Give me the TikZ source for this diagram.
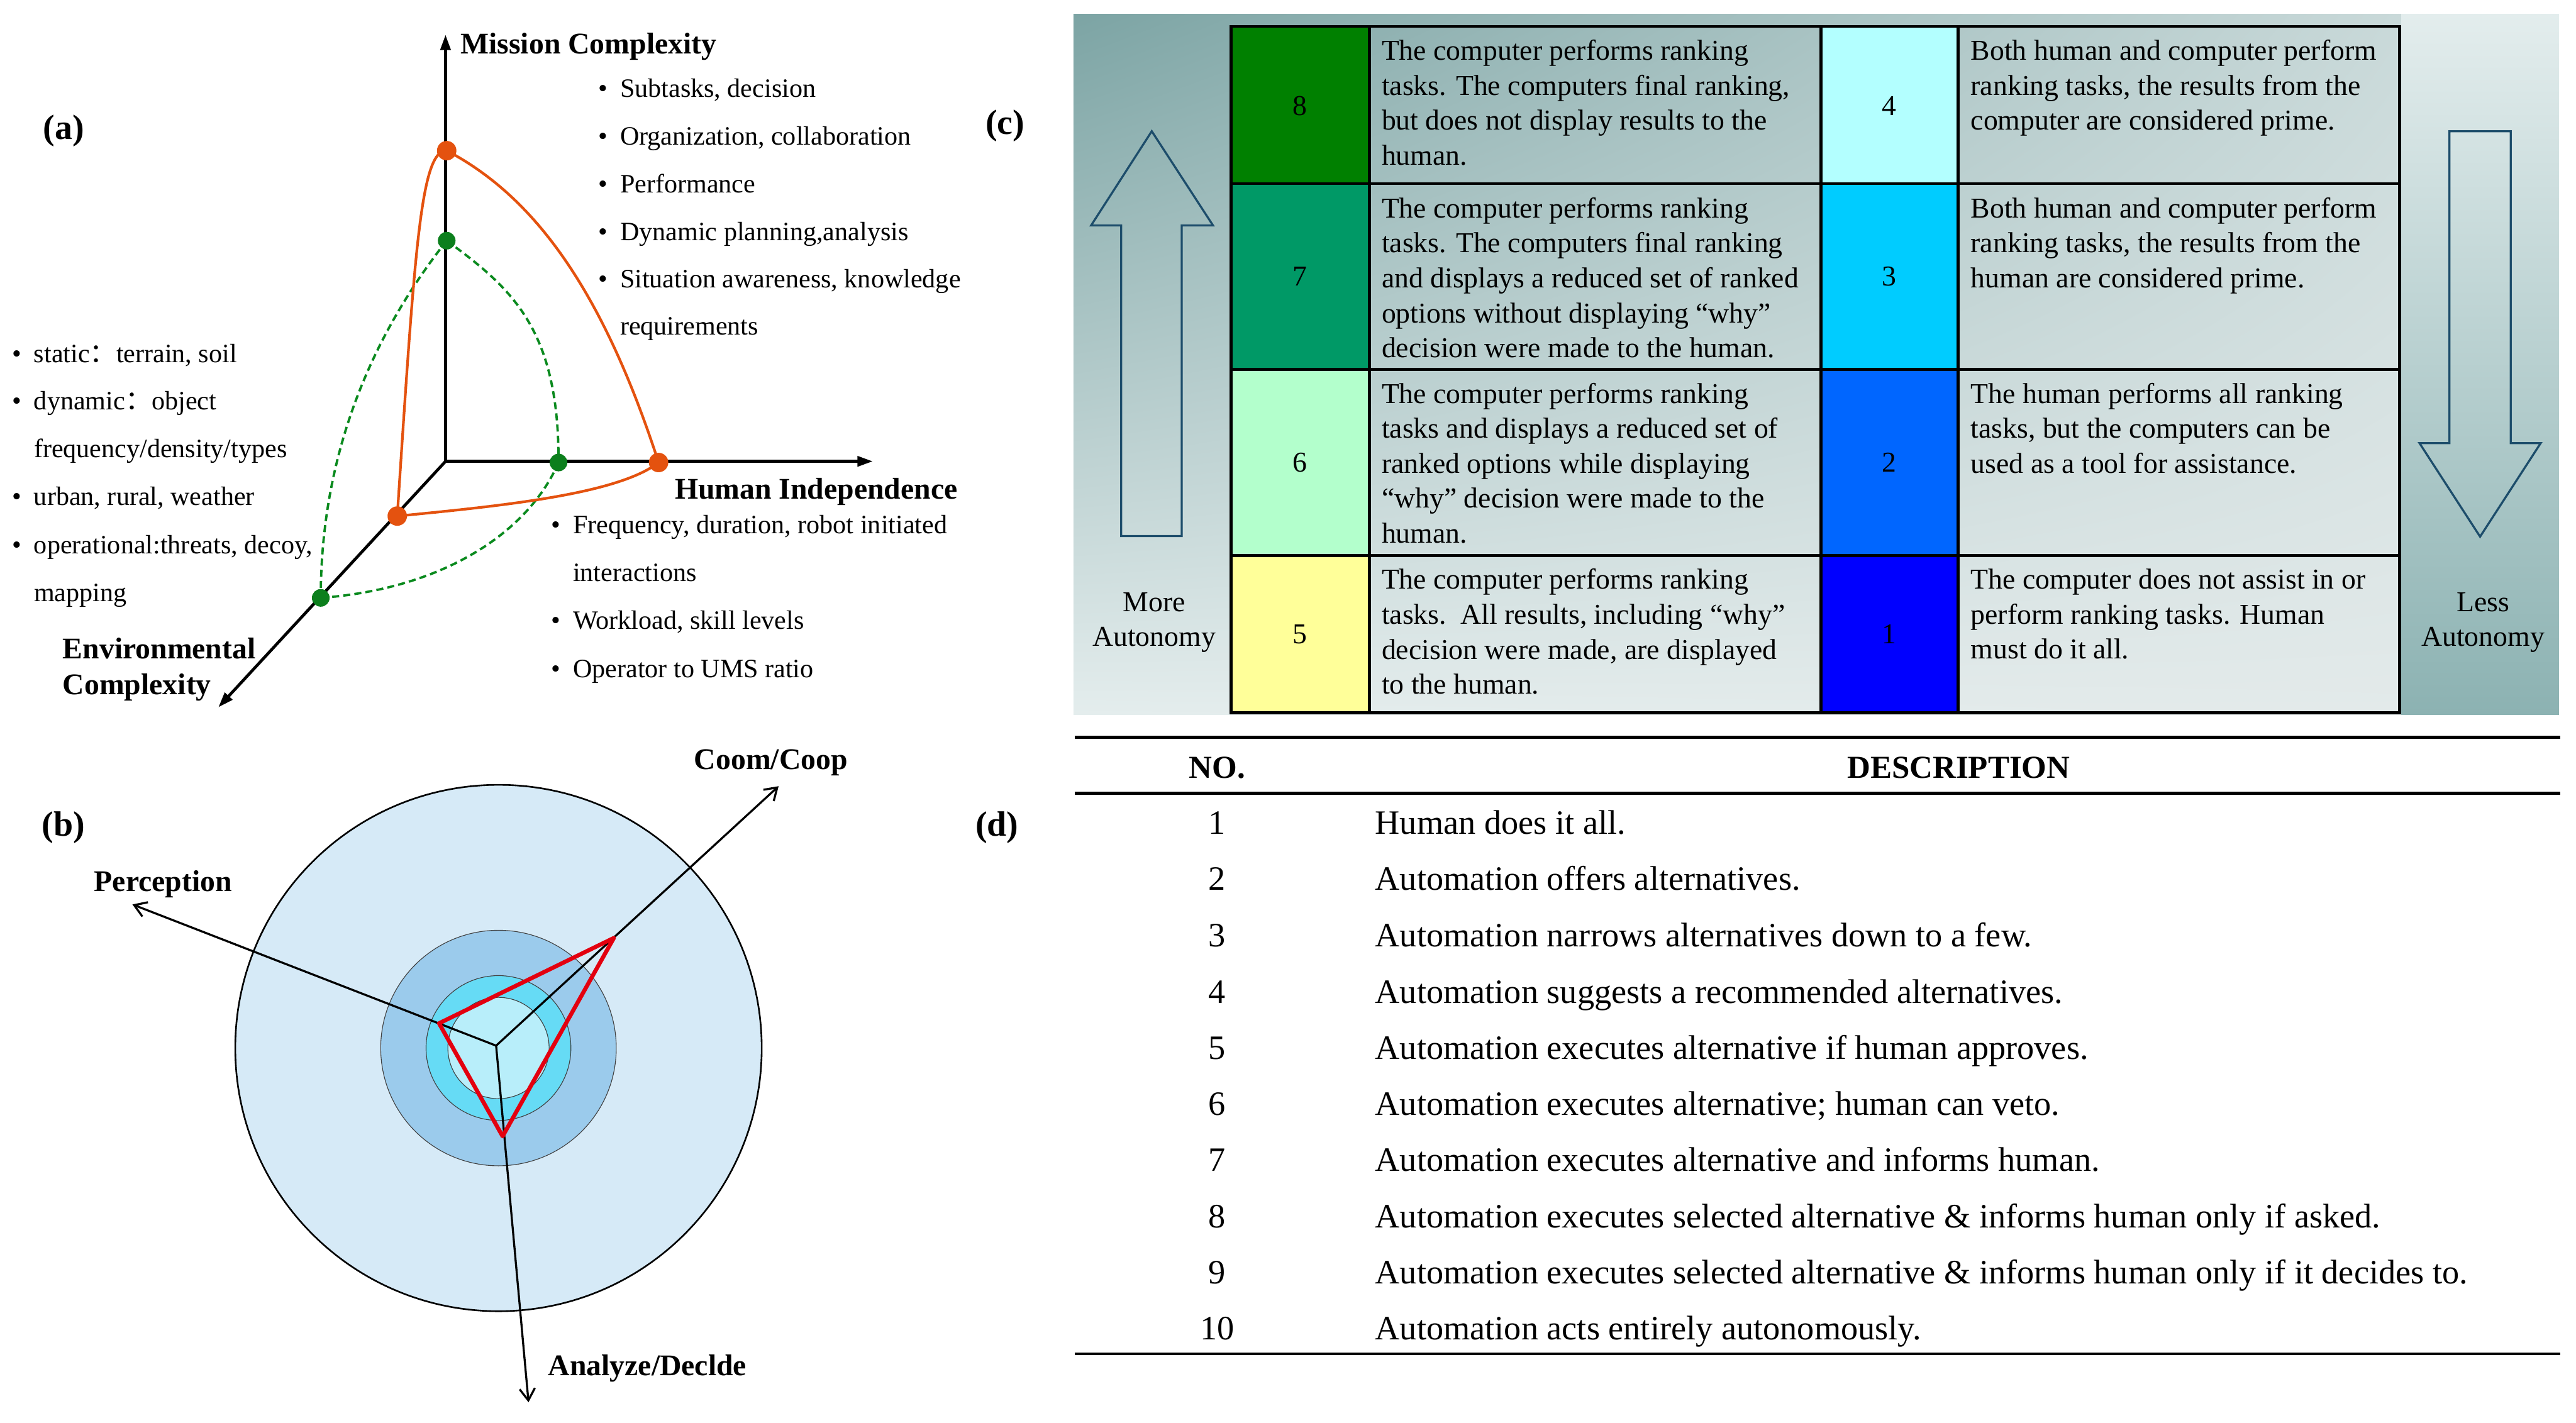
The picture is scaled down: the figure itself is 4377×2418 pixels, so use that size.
\documentclass[tikz,border=0pt]{standalone}
\usepackage{fontspec}
\setmainfont{Liberation Serif}
\newfontfamily\cjkfont{Noto Sans CJK SC}
\usetikzlibrary{arrows.meta,shadings}
\definecolor{orangeC}{HTML}{E4520F}
\definecolor{greenL}{HTML}{0A8A1E}
\definecolor{greenD}{HTML}{0C7F1D}
\definecolor{bigC}{HTML}{D6EAF7}
\definecolor{midC}{HTML}{9BCBEC}
\definecolor{innC}{HTML}{66DBF5}
\definecolor{coreC}{HTML}{B8EEFA}
\definecolor{redC}{HTML}{E3000F}
\definecolor{arrowC}{HTML}{1D4D6B}
\definecolor{bgTL}{HTML}{7CA4A4}
\definecolor{bgTR}{HTML}{C9D9D9}
\definecolor{bgBL}{HTML}{E4EDED}
\definecolor{bgBR}{HTML}{E3EAEA}
\definecolor{rsTop}{HTML}{E3EDED}
\definecolor{rsBot}{HTML}{8CB2B2}
\definecolor{cEight}{HTML}{008000}
\definecolor{cSeven}{HTML}{009966}
\definecolor{cSix}{HTML}{B3FFCC}
\definecolor{cFive}{HTML}{FFFF99}
\definecolor{cFour}{HTML}{B3FFFF}
\definecolor{cThree}{HTML}{00CCFF}
\definecolor{cTwo}{HTML}{0066FF}
\definecolor{cOne}{HTML}{0000FF}
\newcommand\bul{\makebox[0.37cm][l]{\textbullet}}
\newcommand\fcolon{{\cjkfont ：}}
\begin{document}
\begin{tikzpicture}[x=0.01cm,y=-0.01cm,
  panel/.style={font=\fontsize{17}{20}\selectfont\bfseries, inner sep=0},
  axlbl/.style={font=\fontsize{14.5}{17}\selectfont\bfseries, inner sep=0, anchor=base west},
  blt/.style={font=\fontsize{12.8}{15}\selectfont, inner sep=0, anchor=base west},
  axisA/.style={line width=0.05cm, -{Triangle[length=0.26cm,width=0.17cm]}},
  ocurve/.style={orangeC, line width=0.045cm},
  gcurve/.style={greenL, line width=0.04cm, dash pattern=on 0.12cm off 0.07cm},
  odot/.style={circle, fill=orangeC, minimum size=0.33cm, inner sep=0},
  gdot/.style={circle, fill=greenD, minimum size=0.30cm, inner sep=0},
  axisB/.style={line width=0.035cm, -{Straight Barb[length=0.2cm,width=0.26cm]}},
  ring/.style={draw=black!75, line width=0.012cm},
  redtri/.style={redC, line width=0.07cm, line join=round},
  bglbl/.style={font=\fontsize{14.5}{17}\selectfont\bfseries, inner sep=0},
  celltxt/.style={font=\fontsize{13.9}{16.9}\selectfont, inner sep=0, anchor=north west, align=left},
  numtxt/.style={font=\fontsize{13.9}{16.9}\selectfont, inner sep=0},
  sidetxt/.style={font=\fontsize{13.9}{16.9}\selectfont, inner sep=0, align=center},
  gridline/.style={line width=0.05cm},
  hollow/.style={draw=arrowC, line width=0.035cm, line join=miter},
  rule/.style={line width=0.045cm},
  dhead/.style={font=\fontsize{15.5}{18}\selectfont\bfseries, inner sep=0, anchor=base},
  dnum/.style={font=\fontsize{16.5}{19}\selectfont, inner sep=0, anchor=base},
  dtxt/.style={font=\fontsize{16.5}{19}\selectfont, inner sep=0, anchor=base west}
]
\useasboundingbox (0,0) rectangle (4377,2418);

% ================= (a) =================
\node[panel] (la) at (108,222) {(a)};
\coordinate (O) at (757,784);
\coordinate (Mz) at (757,59);
\coordinate (Hz) at (1483,784);
\coordinate (Ez) at (371,1202);
\draw[axisA] (O) -- (Mz);
\draw[axisA] (O) -- (Hz);
\draw[axisA] (O) -- (Ez);

\coordinate (oTp) at (759,256);
\coordinate (oRp) at (1119,786);
\coordinate (oLp) at (675,877);
\coordinate (gTp) at (759,409);
\coordinate (gRp) at (949,786);
\coordinate (gLp) at (545,1016);

\draw[gcurve] (gTp) .. controls (870,490) and (950,560) .. (gRp);
\draw[gcurve] (gTp) .. controls (640,560) and (545,760) .. (gLp);
\draw[gcurve] (gRp) .. controls (900,900) and (760,1000) .. (gLp);
\draw[ocurve] (oTp) .. controls (900,330) and (1020,480) .. (oRp);
\draw[ocurve] (oTp) .. controls (715,255) and (705,420) .. (oLp);
\draw[ocurve] (oLp) .. controls (850,860) and (1050,840) .. (oRp);

\node[odot] (oT) at (oTp) {};
\node[odot] (oR) at (oRp) {};
\node[odot] (oL) at (oLp) {};
\node[gdot] (gT) at (gTp) {};
\node[gdot] (gR) at (gRp) {};
\node[gdot] (gL) at (gLp) {};

\node[axlbl] (tMission) at (782,91) {Mission Complexity};
\node[axlbl] (tHuman) at (1146,848) {Human Independence};
\node[axlbl] (tEnv1) at (106,1119) {Environmental};
\node[axlbl] (tEnv2) at (106,1180) {Complexity};

\node[blt] (m1) at (1016,165) {\bul Subtasks, decision};
\node[blt] (m2) at (1016,246) {\bul Organization, collaboration};
\node[blt] (m3) at (1016,328) {\bul Performance};
\node[blt] (m4) at (1016,409) {\bul Dynamic planning,analysis};
\node[blt] (m5) at (1016,489) {\bul Situation awareness, knowledge};
\node[blt] (m6) at (1053,569) {requirements};

\node[blt] (e1) at (20,616) {\bul static\fcolon terrain, soil};
\node[blt] (e2) at (20,696) {\bul dynamic\fcolon object};
\node[blt] (e3) at (57,777) {frequency/density/types};
\node[blt] (e4) at (20,859) {\bul urban, rural, weather};
\node[blt] (e5) at (20,941) {\bul operational:threats, decoy,};
\node[blt] (e6) at (57,1022) {mapping};

\node[blt] (h1) at (936,907) {\bul Frequency, duration, robot initiated};
\node[blt] (h2) at (973,988) {interactions};
\node[blt] (h3) at (936,1069) {\bul Workload, skill levels};
\node[blt] (h4) at (936,1151) {\bul Operator to UMS ratio};

% ================= (b) =================
\node[panel] (lb) at (108,1406) {(b)};
\coordinate (bc) at (847,1781);
\draw[fill=bigC, line width=0.028cm] (bc) circle[radius=4.47cm];
\draw[ring, fill=midC] (bc) circle[radius=2.0cm];
\draw[ring, fill=innC] (bc) circle[radius=1.23cm];
\draw[ring, fill=coreC] (bc) circle[radius=0.86cm];
\coordinate (bo) at (843,1777);
\coordinate (pTip) at (225,1537);
\coordinate (cTip) at (1323,1336);
\coordinate (aTip) at (898,2383);
\draw[axisB] (bo) -- (pTip);
\draw[axisB] (bo) -- (cTip);
\draw[axisB] (bo) -- (aTip);
\coordinate (rP) at (746,1739);
\coordinate (rC) at (1043,1594);
\coordinate (rA) at (854,1931);
\draw[redtri] (rP) -- (rC) -- (rA) -- cycle;
\node[bglbl] (tPer) at (277,1502) {Perception};
\node[bglbl] (tCoom) at (1310,1296) {Coom/Coop};
\node[bglbl] (tAna) at (1100,2325) {Analyze/Declde};

% ================= (c) =================
\node[panel] (lc) at (1708,214) {(c)};
\shade[upper left=bgTL, upper right=bgTR, lower left=bgBL, lower right=bgBR] (1824,24) rectangle (4080,1214);
\shade[top color=rsTop, bottom color=rsBot] (4080,24) rectangle (4348,1214);

\fill[cEight] (2092,45) rectangle (2327,312);
\fill[cSeven] (2092,312) rectangle (2327,628);
\fill[cSix] (2092,628) rectangle (2327,944);
\fill[cFive] (2092,944) rectangle (2327,1211);
\fill[cFour] (3094,45) rectangle (3327,312);
\fill[cThree] (3094,312) rectangle (3327,628);
\fill[cTwo] (3094,628) rectangle (3327,944);
\fill[cOne] (3094,944) rectangle (3327,1211);

\draw[gridline] (2092,45) rectangle (4077,1211);
\draw[gridline] (2092,312) -- (4077,312);
\draw[gridline] (2092,628) -- (4077,628);
\draw[gridline] (2092,944) -- (4077,944);
\draw[gridline] (2327,45) -- (2327,1211);
\draw[gridline] (3094,45) -- (3094,1211);
\draw[gridline] (3327,45) -- (3327,1211);

\node[numtxt] (n8) at (2209,180) {8};
\node[numtxt] (n7) at (2209,470) {7};
\node[numtxt] (n6) at (2209,786) {6};
\node[numtxt] (n5) at (2209,1078) {5};
\node[numtxt] (n4) at (3210,180) {4};
\node[numtxt] (n3) at (3210,470) {3};
\node[numtxt] (n2) at (3210,786) {2};
\node[numtxt] (n1) at (3210,1078) {1};

\node[celltxt] (t8) at (2347,67) {The computer performs ranking\\tasks. The computers final ranking,\\but does not display results to the\\human.};
\node[celltxt] (t7) at (2347,335) {The computer performs ranking\\tasks. The computers final ranking\\and displays a reduced set of ranked\\options without displaying “why”\\decision were made to the human.};
\node[celltxt] (t6) at (2347,650) {The computer performs ranking\\tasks and displays a reduced set of\\ranked options while displaying\\“why” decision were made to the\\human.};
\node[celltxt] (t5) at (2347,966) {The computer performs ranking\\tasks.\ \ All results, including “why”\\decision were made, are displayed\\to the human.};
\node[celltxt] (t4) at (3348,67) {Both human and computer perform\\ranking tasks, the results from the\\computer are considered prime.};
\node[celltxt] (t3) at (3348,335) {Both human and computer perform\\ranking tasks, the results from the\\human are considered prime.};
\node[celltxt] (t2) at (3348,650) {The human performs all ranking\\tasks, but the computers can be\\used as a tool for assistance.};
\node[celltxt] (t1) at (3348,966) {The computer does not assist in or\\perform ranking tasks. Human\\must do it all.};

\draw[hollow] (1957,223) -- (2061,383) -- (2008,383) -- (2008,911) -- (1905,911) -- (1905,383) -- (1854,383) -- cycle;
\draw[hollow] (4162,223) -- (4266,223) -- (4266,753) -- (4317,753) -- (4214,912) -- (4111,753) -- (4162,753) -- cycle;
\node[sidetxt] (more) at (1961,1058) {More\\Autonomy};
\node[sidetxt] (less) at (4219,1058) {Less\\Autonomy};

% ================= (d) =================
\node[panel] (ld) at (1694,1406) {(d)};
\draw[rule] (1826,1253) -- (4350,1253);
\draw[rule] (1826,1348) -- (4350,1348);
\draw[rule] (1826,2301) -- (4350,2301);
\node[dhead] (hNo) at (2068,1322) {NO.};
\node[dhead] (hDesc) at (3328,1322) {DESCRIPTION};

\node[dnum] (d1) at (2068,1417) {1};
\node[dnum] (d2) at (2068,1513) {2};
\node[dnum] (d3) at (2068,1609) {3};
\node[dnum] (d4) at (2068,1705) {4};
\node[dnum] (d5) at (2068,1800) {5};
\node[dnum] (d6) at (2068,1895) {6};
\node[dnum] (d7) at (2068,1990) {7};
\node[dnum] (d8) at (2068,2086) {8};
\node[dnum] (d9) at (2068,2181) {9};
\node[dnum] (d10) at (2068,2277) {10};

\node[dtxt] (s1) at (2336,1417) {Human does it all.};
\node[dtxt] (s2) at (2336,1513) {Automation offers alternatives.};
\node[dtxt] (s3) at (2336,1609) {Automation narrows alternatives down to a few.};
\node[dtxt] (s4) at (2336,1705) {Automation suggests a recommended alternatives.};
\node[dtxt] (s5) at (2336,1800) {Automation executes alternative if human approves.};
\node[dtxt] (s6) at (2336,1895) {Automation executes alternative; human can veto.};
\node[dtxt] (s7) at (2336,1990) {Automation executes alternative and informs human.};
\node[dtxt] (s8) at (2336,2086) {Automation executes selected alternative \& informs human only if asked.};
\node[dtxt] (s9) at (2336,2181) {Automation executes selected alternative \& informs human only if it decides to.};
\node[dtxt] (s10) at (2336,2277) {Automation acts entirely autonomously.};
\end{tikzpicture}
\end{document}
